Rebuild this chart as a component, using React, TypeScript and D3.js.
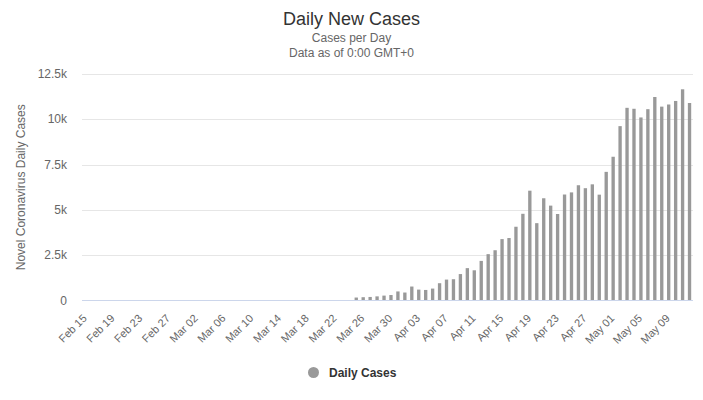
import React from "react";
import * as d3 from "d3";

const W = 703;
const H = 400;

const titleText = "Daily New Cases";
const subtitleLines = ["Cases per Day", "Data as of 0:00 GMT+0"];
const yAxisTitle = "Novel Coronavirus Daily Cases";
const seriesName = "Daily Cases";

// Categories: one per day, Feb 15 – May 12 (2020)
const startDate = new Date(2020, 1, 15);
const endDate = new Date(2020, 4, 13);
const categories = d3.timeDay.range(startDate, endDate).map(d3.timeFormat("%b %d"));

// Daily values (Feb 15 – Mar 24 are zero)
const zeroDays = 39;
const dailyCases = [
  163, 182, 196, 228, 270, 302, 500, 440, 771, 601, 582, 658,
  954, 1154, 1175, 1459, 1786, 1667, 2186, 2558, 2774, 3388, 3448, 4070,
  4785, 6060, 4268, 5642, 5236, 4774, 5849, 5966, 6361, 6198, 6411, 5841,
  7099, 7933, 9623, 10633, 10581, 10102, 10559, 11231, 10699, 10817, 11012, 11656,
  10899,
];
const values = [...new Array(zeroDays).fill(0), ...dailyCases];

const yTicks = [0, 2500, 5000, 7500, 10000, 12500];
const yTickLabels = ["0", "2.5k", "5k", "7.5k", "10k", "12.5k"];
const xLabelStep = 4;

const FONT = "'Liberation Sans', Arial, Helvetica, sans-serif";

export default function App() {
  const left = 82;
  const right = 693;
  const top = 74;
  const bottom = 300.5;

  const x = d3.scaleBand<string>().domain(categories).range([left, right]).padding(0);
  const y = d3.scaleLinear().domain([0, 12500]).range([bottom, top]);
  const bw = x.bandwidth();
  const barW = bw * 0.48;

  return (
    <svg
      width={W}
      height={H}
      style={{ position: "absolute", left: 0, top: 0, background: "#fff", fontFamily: FONT }}
    >
      <rect x={0} y={0} width={W} height={H} fill="#fff" />
      <text x={351.5} y={25} textAnchor="middle" fontSize={18} fill="#333333">
        {titleText}
      </text>
      {subtitleLines.map((s, i) => (
        <text key={s} x={351.5} y={42 + i * 15} textAnchor="middle" fontSize={12} fill="#666666">
          {s}
        </text>
      ))}

      {/* grid */}
      {yTicks.map((t, i) => (
        <g key={t}>
          {t !== 0 && (
            <line x1={left} x2={right} y1={Math.round(y(t)) + 0.5} y2={Math.round(y(t)) + 0.5} stroke="#e6e6e6" strokeWidth={1} />
          )}
          <text x={67} y={y(t) + 4} textAnchor="end" fontSize={12} fill="#666666">
            {yTickLabels[i]}
          </text>
        </g>
      ))}

      <text
        transform={`translate(25,${(top + bottom) / 2}) rotate(-90)`}
        textAnchor="middle"
        fontSize={12}
        fill="#666666"
      >
        {yAxisTitle}
      </text>

      {/* bars */}
      {categories.map((c, i) =>
        values[i] > 0 ? (
          <rect
            key={c}
            x={(x(c) as number) + (bw - barW) / 2}
            y={y(values[i])}
            width={barW}
            height={bottom - y(values[i])}
            fill="#999999"
          />
        ) : null
      )}

      {/* x axis line */}
      <line x1={left} x2={right} y1={bottom} y2={bottom} stroke="#ccd6eb" strokeWidth={1} />

      {categories.map((c, i) =>
        i % xLabelStep === 0 ? (
          <text
            key={"l" + c}
            transform={`translate(${(x(c) as number) + bw / 2 + 2},${319}) rotate(-45)`}
            textAnchor="end"
            fontSize={11}
            fill="#666666"
          >
            {c}
          </text>
        ) : null
      )}

      {/* legend */}
      <circle cx={313.5} cy={372.5} r={5.5} fill="#999999" />
      <text x={329} y={377} fontSize={12} fontWeight="bold" fill="#333333">
        {seriesName}
      </text>
    </svg>
  );
}
